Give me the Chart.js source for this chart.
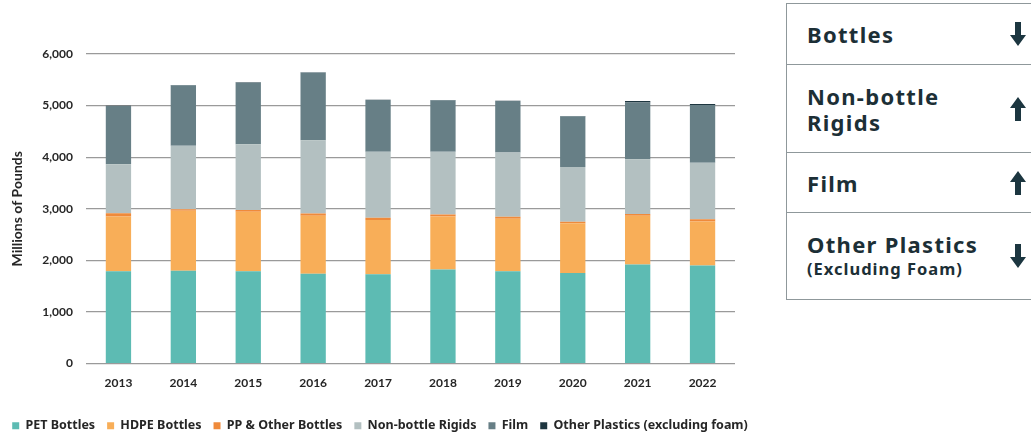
<!DOCTYPE html>
<html>
<head>
<meta charset="utf-8">
<script src="https://cdn.jsdelivr.net/npm/chart.js@4.4.1/dist/chart.umd.min.js"></script>
<style>
  html, body { margin: 0; padding: 0; background: #fff; }
  body { width: 1031px; height: 432px; position: relative; overflow: hidden; font-family: Lato, "Open Sans", sans-serif; }
  #wrap { position: absolute; left: 0; top: 0; width: 760px; height: 442px; }
  .trend { position: absolute; left: 786px; top: 3px; width: 270px; border: 1.5px solid #8f989b; border-right: none; color: #1c2f36; font-family: "Noto Sans", sans-serif; }
  .trend .row { position: relative; border-top: 1.5px solid #8f989b; padding-left: 20px; display: flex; flex-direction: column; justify-content: center; box-sizing: border-box; }
  .trend .row:first-child { border-top: none; }
  .trend .name { font-weight: 700; font-size: 22px; line-height: 26px; letter-spacing: 1.3px; }
  .trend .sub { font-weight: 700; font-size: 16.5px; line-height: 24px; letter-spacing: 1px; }
  .trend svg { position: absolute; left: 223px; top: 50%; transform: translateY(-50%); }
</style>
</head>
<body>
<div id="wrap"><canvas id="chart"></canvas></div>

<div class="trend">
  <div class="row" style="height:60px"><div class="name">Bottles</div>
    <svg width="16" height="24" viewBox="0 0 16 24"><path d="M5 0h6v13h5l-8 11-8-11h5z" fill="#1c3640"/></svg></div>
  <div class="row" style="height:88px"><div class="name">Non-bottle<br>Rigids</div>
    <svg width="16" height="24" viewBox="0 0 16 24"><path d="M5 24h6v-13h5l-8-11-8 11h5z" fill="#1c3640"/></svg></div>
  <div class="row" style="height:60px"><div class="name">Film</div>
    <svg width="16" height="24" viewBox="0 0 16 24"><path d="M5 24h6v-13h5l-8-11-8 11h5z" fill="#1c3640"/></svg></div>
  <div class="row" style="height:87px"><div class="name">Other Plastics</div><div class="sub">(Excluding Foam)</div>
    <svg width="16" height="24" viewBox="0 0 16 24"><path d="M5 0h6v13h5l-8 11-8-11h5z" fill="#1c3640"/></svg></div>
</div>

<script>
const years = ["2013", "2014", "2015", "2016", "2017", "2018", "2019", "2020", "2021", "2022"];

// millions of pounds
const petBottles   = [1790, 1800, 1790, 1740, 1730, 1820, 1790, 1755, 1920, 1900];
const hdpeBottles  = [1058, 1160, 1150, 1125, 1050, 1030, 1015,  965,  945,  855];
const ppBottles    = [  65,   30,   35,   45,   45,   40,   40,   30,   35,   40];
const nonBottle    = [ 950, 1230, 1275, 1420, 1280, 1215, 1245, 1060, 1060, 1095];
const film         = [1130, 1175, 1195, 1310, 1005, 1000, 1000,  985, 1100, 1120];
const otherPlastic = [   5,    5,    5,    5,    5,    5,    5,    5,   30,   20];

const yTicks = [0, 1000, 2000, 3000, 4000, 5000, 6000];

const seriesNames = ["PET Bottles", "HDPE Bottles", "PP & Other Bottles", "Non-bottle Rigids", "Film", "Other Plastics (excluding foam)"];
const seriesColors = ["#5dbbb3", "#f8ae58", "#ef8a3b", "#b3c0c1", "#677f86", "#1e3640"];
const seriesData = [petBottles, hdpeBottles, ppBottles, nonBottle, film, otherPlastic];

const textColor = "#262626";

new Chart(document.getElementById("chart"), {
  type: "bar",
  data: {
    labels: years,
    datasets: seriesData.map((values, i) => ({
      label: seriesNames[i],
      data: values,
      backgroundColor: seriesColors[i],
      borderWidth: 0,
      barPercentage: 0.39,
      categoryPercentage: 1,
    })),
  },
  options: {
    responsive: true,
    maintainAspectRatio: false,
    animation: false,
    layout: { padding: { top: 54, left: 0, right: 0, bottom: 0 } },
    plugins: {
      tooltip: { enabled: false },
      legend: {
        position: "bottom",
        labels: {
          color: textColor,
          boxWidth: 7,
          boxHeight: 7,
          padding: 12,
          font: { family: "Noto Sans", size: 12.5, weight: "bold" },
        },
      },
    },
    scales: {
      x: {
        stacked: true,
        grid: { display: false },
        border: { display: false },
        ticks: { color: textColor, padding: 4, font: { family: "Lato", size: 12, weight: "bold" } },
        afterFit: (scale) => { scale.height = 44; },
      },
      y: {
        stacked: true,
        min: 0,
        max: 6000,
        afterBuildTicks: (scale) => { scale.ticks = yTicks.map((v) => ({ value: v })); },
        grid: { color: "#9a9a9a", lineWidth: 1.2, drawTicks: false },
        border: { display: false },
        ticks: {
          color: textColor,
          padding: 13,
          font: { family: "Lato", size: 12, weight: "bold" },
          callback: (v) => v.toLocaleString("en-US"),
        },
        title: {
          display: true,
          text: "Millions of Pounds",
          color: textColor,
          padding: { top: 9, bottom: 10 },
          font: { family: "Lato", size: 14, weight: "bold" },
        },
        afterFit: (scale) => { scale.width = 86; },
      },
      // empty right-hand gutter so the legend can use the full width
      gutter: {
        position: "right",
        grid: { display: false },
        border: { display: false },
        ticks: { display: false },
        afterFit: (scale) => { scale.width = 25; },
      },
    },
  },
});
</script>
</body>
</html>
